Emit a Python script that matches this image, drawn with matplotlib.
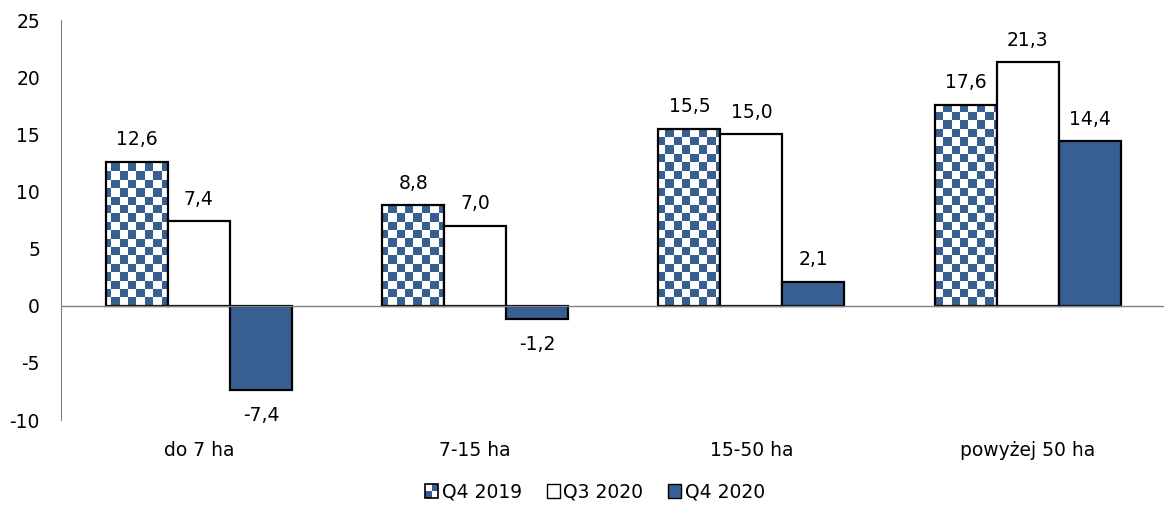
import matplotlib.pyplot as plt
import matplotlib.patches as mpatches
from matplotlib.legend_handler import HandlerBase
from matplotlib.colors import ListedColormap
import numpy as np

# --- donnees ---
categories = ["do 7 ha", "7-15 ha", "15-50 ha", "powyżej 50 ha"]
series_names = ["Q4 2019", "Q3 2020", "Q4 2020"]
q4_2019 = [12.6, 8.8, 15.5, 17.6]
q3_2020 = [7.4, 7.0, 15.0, 21.3]
q4_2020 = [-7.4, -1.2, 2.1, 14.4]

BLUE = "#375F91"
W, H, DPI = 1164, 516, 100
FS = 13.5


def fmt(v):
    return f"{v:.1f}".replace(".", ",")


# poignee de legende en damier
class HandlerChecker(HandlerBase):
    def create_artists(self, legend, orig_handle, xdescent, ydescent,
                       width, height, fontsize, trans):
        s = min(width, height)
        x0 = -xdescent + (width - s) / 2
        y0 = -ydescent + (height - s) / 2
        h = s / 2
        arts = []
        for i in range(2):
            for j in range(2):
                c = BLUE if (i + j) % 2 == 0 else "white"
                arts.append(mpatches.Rectangle((x0 + i * h, y0 + j * h), h, h,
                                               facecolor=c, edgecolor="none",
                                               transform=trans))
        arts.append(mpatches.Rectangle((x0, y0), s, s, facecolor="none",
                                       edgecolor="black", lw=1.2, transform=trans))
        return arts


plt.rcParams['font.family'] = ['DejaVu Sans']
plt.rcParams['axes.unicode_minus'] = False
fig = plt.figure(figsize=(W / DPI, H / DPI), dpi=DPI)
ax_left, ax_w = 60.8, 1105
ax_top, ax_bot = 20, 420
ax = fig.add_axes([ax_left / W, 1 - ax_bot / H, ax_w / W, (ax_bot - ax_top) / H])

x = np.arange(len(categories))
bw = 62 / 276.3
ymin, ymax = -10, 25

b1 = ax.bar(x - bw, q4_2019, bw, facecolor="none", edgecolor="black", lw=1.6, zorder=3)
b2 = ax.bar(x, q3_2020, bw, facecolor="white", edgecolor="black", lw=1.6, zorder=3)
b3 = ax.bar(x + bw, q4_2020, bw, facecolor=BLUE, edgecolor="black", lw=1.6, zorder=3)

ax.set_xlim(-0.5, len(categories) - 0.5)
ax.set_ylim(ymin, ymax)

# damier: cellules d'environ 8.4 px
cell = 8.4
ncol = int(np.ceil(ax_w / cell))
nrow = int(np.ceil((ax_bot - ax_top) / cell))
board = (np.indices((nrow, ncol)).sum(axis=0) % 2)
x_end = -0.5 + ncol * cell / ax_w * len(categories)
y_start = ymax - nrow * cell / (ax_bot - ax_top) * (ymax - ymin)
cmap = ListedColormap(["white", BLUE])
for bar in b1:
    im = ax.imshow(board, cmap=cmap, extent=[-0.5, x_end, y_start, ymax],
                   aspect="auto", interpolation="nearest", zorder=2, origin="upper")
    im.set_clip_path(bar)
ax.set_xlim(-0.5, len(categories) - 0.5)
ax.set_ylim(ymin, ymax)

# etiquettes
for bars, vals in [(b1, q4_2019), (b2, q3_2020), (b3, q4_2020)]:
    for bar, v in zip(bars, vals):
        cx = bar.get_x() + bar.get_width() / 2
        if v >= 0:
            ax.annotate(fmt(v), (cx, v), xytext=(0, 9), textcoords="offset points",
                        ha="center", va="bottom", fontsize=FS)
        else:
            ax.annotate(fmt(v), (cx, v), xytext=(0, -11), textcoords="offset points",
                        ha="center", va="top", fontsize=FS)

ax.axhline(0, color="#808080", lw=1, zorder=4)
for s in ["top", "right", "bottom"]:
    ax.spines[s].set_visible(False)
ax.spines["left"].set_color("#808080")
ax.set_yticks(np.arange(-10, 26, 5))
ax.tick_params(axis="y", length=0, pad=15, labelsize=FS)
ax.tick_params(axis="x", length=0, pad=15, labelsize=FS)
ax.set_xticks(x)
ax.set_xticklabels(categories)

handles = [mpatches.Patch(label=series_names[0]),
           mpatches.Patch(facecolor="white", edgecolor="black", label=series_names[1]),
           mpatches.Patch(facecolor=BLUE, edgecolor="black", label=series_names[2])]
fig.legend(handles=handles, loc="center", bbox_to_anchor=(595 / W, 1 - 492 / H),
           ncol=3, frameon=False, fontsize=FS, handlelength=0.7, handleheight=0.7,
           handletextpad=0.2, columnspacing=1.3,
           handler_map={handles[0]: HandlerChecker()})

fig.savefig("out.png", dpi=DPI)
